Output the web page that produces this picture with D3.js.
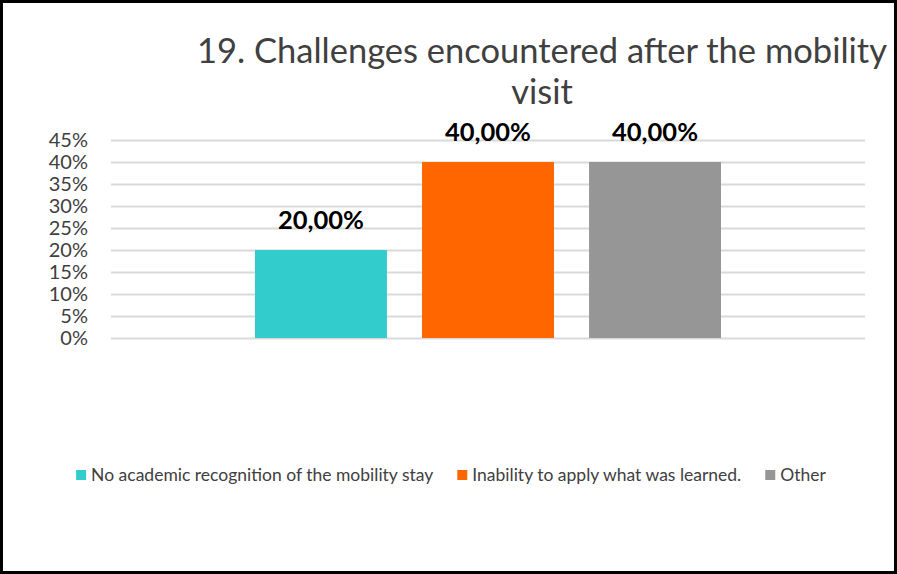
<!DOCTYPE html>
<html>
<head>
<meta charset="utf-8">
<script src="https://cdn.jsdelivr.net/npm/d3@7"></script>
<style>
  body { margin: 0; background: #fff; }
  svg { display: block; }
</style>
</head>
<body>
<div id="chart"></div>
<script>
// chart data
var series = ["No academic recognition of the mobility stay", "Inability to apply what was learned.", "Other"]
var values = [0.20, 0.40, 0.40]
var labels = ["20,00%", "40,00%", "40,00%"]
var colors = ["#33CCCC", "#FF6600", "#969696"]
var yTicks = [0, 0.05, 0.10, 0.15, 0.20, 0.25, 0.30, 0.35, 0.40, 0.45]
var titleLines = ["19. Challenges encountered after the mobility", "visit"]

var svgSize = { width: 897, height: 574 }
var plot = { left: 111, right: 865, top: 140, bottom: 338 }
var font = "Lato, 'Open Sans', sans-serif"

var svg = d3.select("#chart").append("svg")
    .attr("width", svgSize.width)
    .attr("height", svgSize.height)

svg.append("rect")
    .attr("x", 1.5).attr("y", 1.5)
    .attr("width", svgSize.width - 3).attr("height", svgSize.height - 3)
    .attr("fill", "#fff")
    .attr("stroke", "#000")
    .attr("stroke-width", 3)

// title
svg.append("g").selectAll("text").data(titleLines).enter().append("text")
    .attr("x", 542)
    .attr("y", (d, i) => 63 + i * 41)
    .attr("text-anchor", "middle")
    .attr("font-family", font)
    .attr("font-size", 34.5)
    .attr("fill", "#404040")
    .text(d => d)

var yScale = d3.scaleLinear()
    .domain([0, 0.45])
    .range([plot.bottom, plot.top])

// one category with three series, grouped in the middle of the plot
var xScale = d3.scaleBand()
    .domain(series)
    .range([255, 721])
    .paddingInner(0.21)

var leftAxis = d3.axisLeft(yScale)
    .tickValues(yTicks)
    .tickFormat(d => Math.round(d * 100) + "%")
    .tickSize(-(plot.right - plot.left))
    .tickPadding(23)

var yAxis = svg.append("g")
    .attr("transform", `translate(${plot.left},0)`)
    .call(leftAxis)
yAxis.select(".domain").remove()
yAxis.selectAll("line").attr("stroke", "#D9D9D9").attr("stroke-width", 2)
yAxis.selectAll("text")
    .attr("font-family", font)
    .attr("font-size", 20)
    .attr("fill", "#404040")

var chartData = svg.append("g")

chartData.selectAll("rect").data(values).enter().append("rect")
    .attr("x", (d, i) => xScale(series[i]))
    .attr("y", d => yScale(d))
    .attr("width", xScale.bandwidth())
    .attr("height", d => yScale(0) - yScale(d))
    .attr("fill", (d, i) => colors[i])

chartData.selectAll("text").data(values).enter().append("text")
    .attr("x", (d, i) => xScale(series[i]) + xScale.bandwidth() / 2)
    .attr("y", d => yScale(d) - 21)
    .attr("text-anchor", "middle")
    .attr("font-family", font)
    .attr("font-weight", "bold")
    .attr("font-size", 25.5)
    .attr("fill", "#000")
    .text((d, i) => labels[i])

// legend, laid out left to right and centred
var legend = svg.append("g")
var items = legend.selectAll("g").data(series).enter().append("g")
items.append("rect")
    .attr("y", 470).attr("width", 10).attr("height", 10)
    .attr("fill", (d, i) => colors[i])
items.append("text")
    .attr("x", 15).attr("y", 481)
    .attr("font-family", font)
    .attr("font-size", 17.5)
    .attr("fill", "#404040")
    .text(d => d)

var xpos = 0
var offsets = []
items.each(function (d, i) {
    offsets.push(xpos)
    var w = this.querySelector("text").getComputedTextLength() + 15
    xpos += w + 24
})
var total = xpos - 24
var start = 451 - total / 2
items.attr("transform", (d, i) => `translate(${start + offsets[i]},0)`)
</script>
</body>
</html>
